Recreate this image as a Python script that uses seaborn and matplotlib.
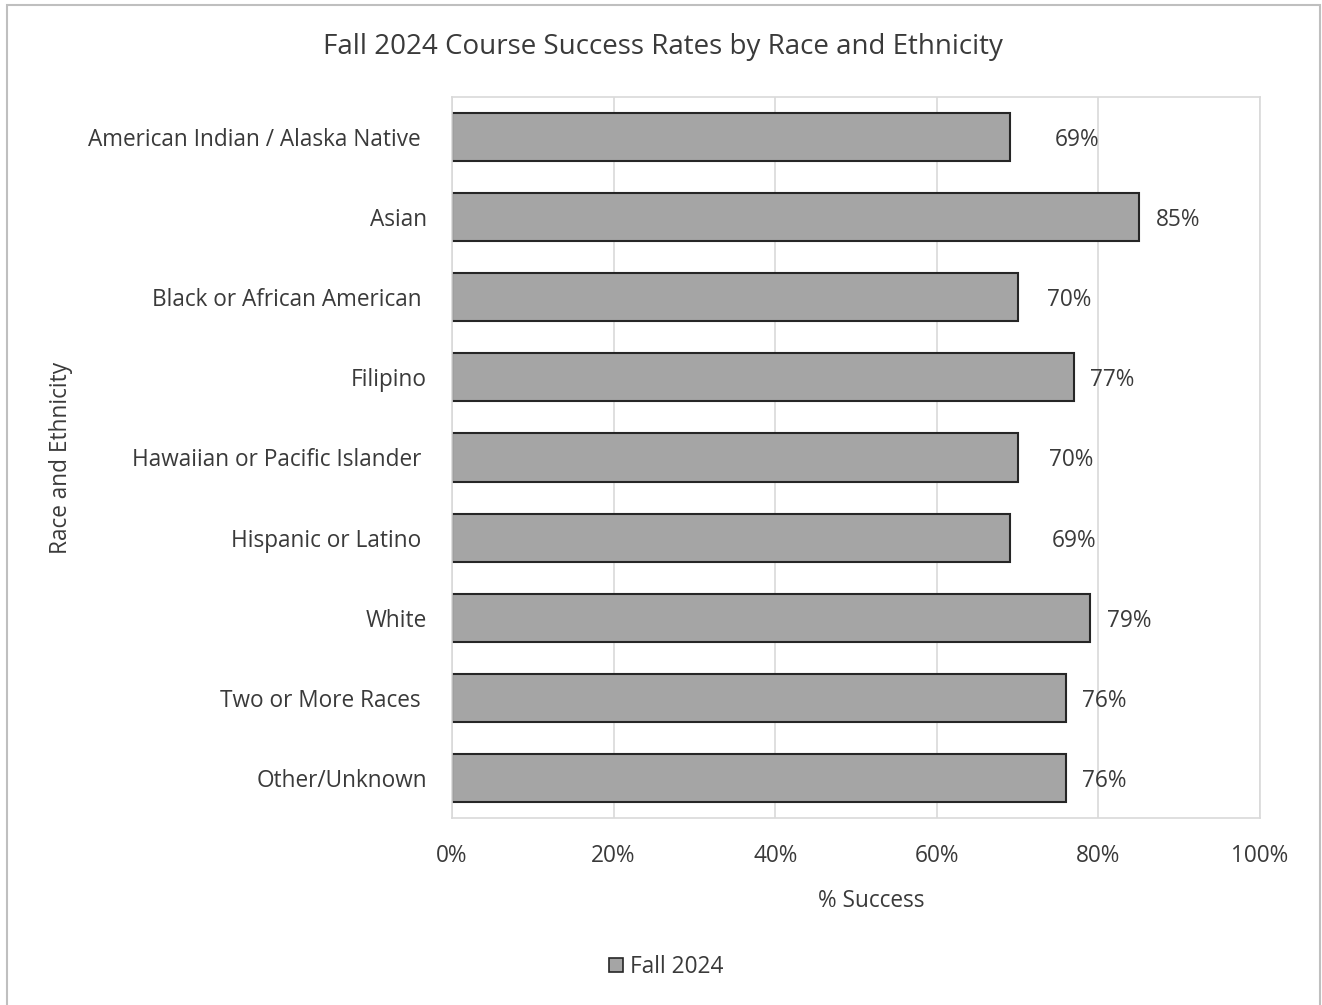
import matplotlib
matplotlib.use("Agg")
import matplotlib.pyplot as plt
import seaborn as sns
import pandas as pd
from matplotlib.patches import Rectangle, Patch
from matplotlib.ticker import PercentFormatter

categories = [
    "American Indian / Alaska Native ",
    "Asian",
    "Black or African American ",
    "Filipino",
    "Hawaiian or Pacific Islander ",
    "Hispanic or Latino ",
    "White",
    "Two or More Races ",
    "Other/Unknown",
]
success = [69, 85, 70, 77, 70, 69, 79, 76, 76]
series_name = "Fall 2024"
title = "Fall 2024 Course Success Rates by Race and Ethnicity"
x_label = "% Success"
y_label = "Race and Ethnicity"

# per-label horizontal offsets in pixels (style only)
label_offsets = [45, 17, 29, 16, 31, 42, 17, 16, 16]

sns.set_theme(style="white")
plt.rcParams["font.family"] = ["Open Sans", "DejaVu Sans"]

FS = 16.3
TXT = "#3a3a3a"

df = pd.DataFrame({"cat": categories, "val": success})

fig = plt.figure(figsize=(13.22, 10.05), dpi=100)
ax = fig.add_axes([452 / 1322, 1 - 818 / 1005, 808 / 1322, 721 / 1005])

sns.barplot(data=df, x="val", y="cat", orient="h", color="#a5a5a5",
            saturation=1, width=0.6, edgecolor="#262626", linewidth=1.5, ax=ax)

ax.set_xlim(0, 100)
ax.set_ylim(8.5, -0.5)
ax.set_xticks([0, 20, 40, 60, 80, 100])
ax.xaxis.set_major_formatter(PercentFormatter(decimals=0))
ax.grid(axis="x", color="#d9d9d9", linewidth=1.2)
ax.set_axisbelow(True)
for s in ax.spines.values():
    s.set_color("#d9d9d9")
    s.set_linewidth(1.2)

ax.tick_params(axis="x", length=0, pad=19, labelsize=FS, labelcolor=TXT)
ax.tick_params(axis="y", length=0, pad=18, labelsize=FS, labelcolor=TXT)
ax.set_xlabel(x_label, fontsize=FS, color=TXT)
ax.xaxis.set_label_coords((871 - 452) / 808, -(901 - 818) / 721)
ax.set_ylabel(y_label, fontsize=FS, color=TXT)
ax.yaxis.set_label_coords(-(452 - 61) / 808, 0.5)
ax.yaxis.label.set_va("center")
ax.xaxis.label.set_va("center")

for i, (v, off) in enumerate(zip(success, label_offsets)):
    ax.annotate(f"{v}%", xy=(v, i), xytext=(off, -3), textcoords="offset pixels",
                ha="left", va="center", fontsize=FS, color=TXT)

fig.text(663 / 1322, 1 - 47 / 1005, title, ha="center", va="center",
         fontsize=20, color=TXT)

handle = Patch(facecolor="#a5a5a5", edgecolor="#262626", linewidth=1.2)
fig.legend([handle], [series_name], loc="center", bbox_to_anchor=(666 / 1322, 1 - 967 / 1005),
           frameon=False, fontsize=FS, handlelength=0.6, handleheight=0.6,
           handletextpad=0.3, labelcolor=TXT)

fig.patches.append(Rectangle((7 / 1322, -0.01), (1320 - 7) / 1322, 1 - 5 / 1005 + 0.01,
                             transform=fig.transFigure, fill=False,
                             edgecolor="#bfbfbf", linewidth=1.5))

fig.savefig("out.png", dpi=100)
